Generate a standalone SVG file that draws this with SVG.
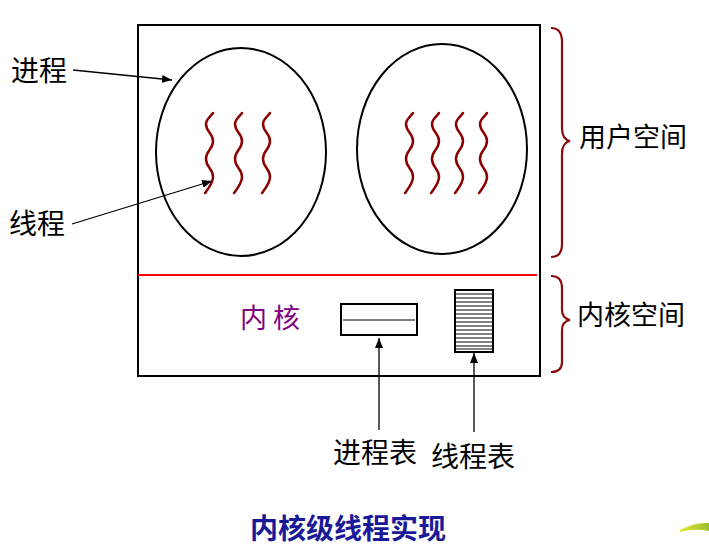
<svg xmlns="http://www.w3.org/2000/svg" xmlns:xlink="http://www.w3.org/1999/xlink" width="709" height="559" viewBox="0 0 709 559">
<style>
.lbl{font-family:"Noto Sans CJK SC","Noto Sans",sans-serif;font-size:27px;fill:#000}
.ln{stroke:#000;stroke-width:1.3;fill:none}
.wave{stroke:#8b0000;stroke-width:2.5;fill:none;stroke-linecap:round}
.brace{stroke:#8b0a0a;stroke-width:2.2;fill:none}
</style>
<defs>
<marker id="ah" viewBox="0 0 10 8" refX="10" refY="4" markerWidth="10" markerHeight="8" markerUnits="userSpaceOnUse" orient="auto">
<path d="M0,0 L10,4 L0,8 Z" fill="#000"/>
</marker>
<path id="wv" d="M0,0 C-2,3 -7,6 -7,11 C-7,19 0,20 0,28 C0,37 -7,37 -7,46 C-7,55 0,55 0,64 C0,70 -5,76 -8,80"/>
<linearGradient id="yg" x1="0" y1="0" x2="1" y2="0">
<stop offset="0" stop-color="#e6e63a"/><stop offset="1" stop-color="#9bbf2a"/>
</linearGradient>
</defs>
<rect width="709" height="559" fill="#fff"/>

<g id="system">
<rect x="138" y="25" width="402" height="351" fill="none" stroke="#000" stroke-width="2"/>
<line x1="138" y1="275" x2="537" y2="275" stroke="#f00" stroke-width="2"/>
</g>

<g id="process1">
<ellipse cx="241" cy="152" rx="85" ry="104" fill="none" stroke="#000" stroke-width="2"/>
<use href="#wv" class="wave" x="213" y="113"/>
<use href="#wv" class="wave" x="242" y="113"/>
<use href="#wv" class="wave" x="270" y="113"/>
</g>

<g id="process2">
<ellipse cx="442" cy="149" rx="85" ry="105" fill="none" stroke="#000" stroke-width="2"/>
<use href="#wv" class="wave" x="413" y="113"/>
<use href="#wv" class="wave" x="439" y="113"/>
<use href="#wv" class="wave" x="463" y="113"/>
<use href="#wv" class="wave" x="487" y="113"/>
</g>

<g id="kernel">
<text x="240" y="328" style="font-family:'Noto Sans CJK SC',sans-serif;font-size:27px;fill:#800080">内 核</text>
</g>

<g id="process-table">
<rect x="341" y="304" width="76" height="31" fill="#fff" stroke="#000" stroke-width="2"/>
<line x1="343" y1="320" x2="415" y2="320" stroke="#000" stroke-width="1"/>
</g>

<g id="thread-table">
<rect x="455" y="290" width="38" height="62" fill="#fff" stroke="#000" stroke-width="2"/>
<path d="M456,294h36M456,298h36M456,302h36M456,306h36M456,310h36M456,314h36M456,318h36M456,322h36M456,326h36M456,330h36M456,334h36M456,338h36M456,342h36M456,346h36M456,349h36" stroke="#000" stroke-width="1"/>
</g>

<g id="labels">
<text class="lbl" x="11" y="81" style="font-size:28px">进程</text>
<text class="lbl" x="9" y="234" style="font-size:28px">线程</text>
<text class="lbl" x="579" y="147">用户空间</text>
<text class="lbl" x="577" y="325">内核空间</text>
<text class="lbl" x="333" y="463" style="font-size:28px">进程表</text>
<text class="lbl" x="431" y="467" style="font-size:28px">线程表</text>
<text x="348" y="539" text-anchor="middle" style="font-family:'Noto Sans CJK SC',sans-serif;font-size:28px;font-weight:bold;fill:#1a1a99">内核级线程实现</text>
</g>

<g id="connectors">
<line class="ln" x1="73" y1="70" x2="172" y2="80" marker-end="url(#ah)"/>
<line class="ln" x1="72" y1="224" x2="212" y2="181" marker-end="url(#ah)"/>
<line class="ln" x1="379" y1="430" x2="379" y2="338" marker-end="url(#ah)"/>
<line class="ln" x1="474" y1="432" x2="474" y2="353" marker-end="url(#ah)"/>
</g>

<g id="braces">
<path class="brace" d="M551,28 C558,28 562,32 562,42 L562,128 C562,136 565,140 570,141 C565,142 562,146 562,154 L562,244 C562,253 558,257 551,257"/>
<path class="brace" d="M551,276 C558,276 562,280 562,288 L562,310 C562,316 565,319 570,320 C565,321 562,324 562,330 L562,362 C562,369 558,372 551,372"/>
</g>

<path d="M680,530 Q694,522 709,523 L709,531 Q694,528 680,532 Z" fill="url(#yg)"/>
</svg>
